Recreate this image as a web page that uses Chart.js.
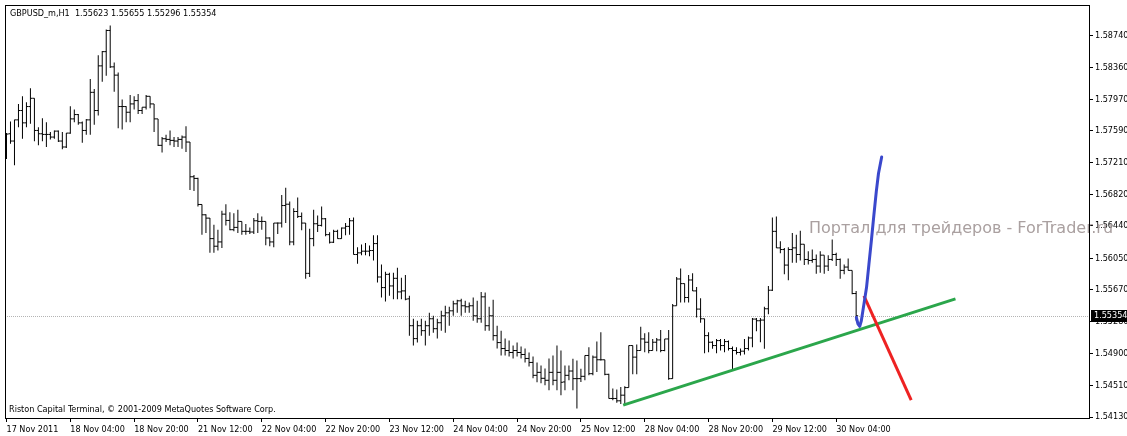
<!DOCTYPE html>
<html><head><meta charset="utf-8">
<script src="https://cdn.jsdelivr.net/npm/chart.js@4.4.0/dist/chart.umd.min.js"></script>
<style>html,body{margin:0;padding:0;background:#fff;overflow:hidden}canvas{display:block}</style>
</head><body>
<canvas id="c" width="1127" height="436"></canvas>
<script>
const symbolName = "GBPUSD_m,H1";
const copyrightText = "Riston Capital Terminal, \u00A9 2001-2009 MetaQuotes Software Corp.";
const watermarkText = "Портал для трейдеров - ForTrader.ru";

const opens = [
1.57455,1.57555,1.57467,1.57723,1.57836,1.57687,1.57884,1.57984,1.57595,1.57555,
1.57547,1.57547,1.57515,1.57587,1.57467,1.57395,1.57563,1.57735,1.57787,1.57687,
1.57595,1.57723,1.58056,1.57836,1.58376,1.58548,1.58804,1.58364,1.58264,1.57884,
1.57884,1.57815,1.57916,1.57956,1.57836,1.57876,1.58008,1.57916,1.57735,1.57415,
1.57495,1.57487,1.57475,1.57467,1.57487,1.57515,1.57455,1.57035,1.57015,1.56700,
1.56575,1.56535,1.56287,1.56195,1.56247,1.56583,1.56507,1.56395,1.56423,1.56495,
1.56375,1.56375,1.56367,1.56503,1.56495,1.56495,1.56295,1.56247,1.56475,1.56475,
1.56687,1.56703,1.56247,1.56615,1.56555,1.56475,1.55867,1.56287,1.56467,1.56447,
1.56527,1.56335,1.56243,1.56375,1.56287,1.56415,1.56435,1.56503,1.56095,1.56115,
1.56135,1.56135,1.56143,1.56227,1.55823,1.55695,1.55855,1.55715,1.55807,1.55643,
1.55655,1.55559,1.55234,1.55078,1.55234,1.55174,1.55234,1.55318,1.55198,1.55270,
1.55354,1.55390,1.55414,1.55499,1.55535,1.55475,1.55463,1.55475,1.55354,1.55318,
1.55583,1.55234,1.55354,1.55114,1.55030,1.54958,1.54934,1.54910,1.54934,1.54910,
1.54886,1.54838,1.54790,1.54634,1.54670,1.54598,1.54574,1.54670,1.54574,1.54670,
1.54554,1.54634,1.54686,1.54594,1.54594,1.54622,1.54874,1.54654,1.54854,1.54822,
1.54822,1.54646,1.54354,1.54354,1.54326,1.54394,1.54486,1.54994,1.54854,1.54934,
1.55074,1.55034,1.54934,1.55034,1.55062,1.54934,1.55074,1.54594,1.55475,1.55799,
1.55743,1.55575,1.55787,1.55655,1.55435,1.55318,1.55114,1.55034,1.54994,1.55054,
1.54994,1.55042,1.54958,1.54934,1.54910,1.54926,1.54958,1.55086,1.55314,1.55294,
1.55302,1.55439,1.55663,1.56375,1.56175,1.56155,1.55967,1.56155,1.56175,1.56095,
1.56219,1.56035,1.56023,1.56035,1.55955,1.56087,1.55955,1.56035,1.56095,1.56035,
1.55903,1.55943,1.55903,1.55623];

const highs = [
1.57563,1.57703,1.57723,1.57916,1.58008,1.57936,1.58104,1.57984,1.57635,1.57743,
1.57695,1.57575,1.57595,1.57595,1.57575,1.57563,1.57888,1.57848,1.57795,1.57703,
1.57735,1.58216,1.58096,1.58504,1.58556,1.58816,1.58864,1.58416,1.58296,1.57968,
1.57888,1.58024,1.58008,1.58036,1.57876,1.58024,1.58008,1.57916,1.57735,1.57515,
1.57543,1.57595,1.57515,1.57515,1.57535,1.57647,1.57455,1.57055,1.57023,1.56700,
1.56583,1.56535,1.56455,1.56395,1.56623,1.56703,1.56607,1.56595,1.56635,1.56495,
1.56463,1.56423,1.56535,1.56595,1.56555,1.56495,1.56303,1.56475,1.56483,1.56815,
1.56903,1.56735,1.56655,1.56783,1.56603,1.56475,1.56407,1.56635,1.56567,1.56675,
1.56535,1.56363,1.56395,1.56395,1.56423,1.56475,1.56535,1.56543,1.56183,1.56215,
1.56235,1.56203,1.56327,1.56327,1.55975,1.55887,1.55875,1.55875,1.55935,1.55815,
1.55847,1.55595,1.55318,1.55294,1.55318,1.55294,1.55390,1.55354,1.55318,1.55414,
1.55475,1.55463,1.55535,1.55547,1.55559,1.55535,1.55515,1.55575,1.55535,1.55643,
1.55635,1.55463,1.55547,1.55234,1.55174,1.55078,1.55054,1.54994,1.55030,1.54982,
1.54958,1.54910,1.54862,1.54790,1.54754,1.54718,1.54838,1.54874,1.54994,1.54934,
1.54754,1.54754,1.54834,1.54814,1.54714,1.54874,1.54974,1.54874,1.55042,1.55154,
1.54822,1.54654,1.54474,1.54462,1.54494,1.54502,1.54994,1.54994,1.55006,1.55222,
1.55142,1.55154,1.55074,1.55086,1.55182,1.55074,1.55182,1.55495,1.55823,1.55927,
1.55743,1.55847,1.55867,1.55703,1.55567,1.55318,1.55154,1.55046,1.55074,1.55074,
1.55074,1.55054,1.54982,1.54974,1.54958,1.55074,1.55102,1.55326,1.55326,1.55326,
1.55463,1.55715,1.56543,1.56555,1.56255,1.56175,1.56183,1.56355,1.56335,1.56383,
1.56219,1.56135,1.56155,1.56095,1.56135,1.56087,1.56087,1.56275,1.56115,1.56047,
1.55975,1.56047,1.55903,1.55655];

const lows = [
1.57251,1.57435,1.57175,1.57635,1.57495,1.57635,1.57675,1.57463,1.57415,1.57463,
1.57395,1.57487,1.57495,1.57455,1.57367,1.57383,1.57555,1.57695,1.57663,1.57447,
1.57543,1.57543,1.57663,1.57775,1.58184,1.58256,1.58350,1.58064,1.57623,1.57607,
1.57695,1.57695,1.57848,1.57795,1.57795,1.57848,1.57864,1.57575,1.57407,1.57327,
1.57455,1.57415,1.57395,1.57395,1.57375,1.57335,1.56875,1.56863,1.56675,1.56335,
1.56355,1.56115,1.56115,1.56143,1.56175,1.56447,1.56387,1.56375,1.56355,1.56335,
1.56335,1.56343,1.56343,1.56355,1.56395,1.56207,1.56195,1.56183,1.56343,1.56423,
1.56475,1.56207,1.56207,1.56535,1.56387,1.55803,1.55823,1.56195,1.56367,1.56435,
1.56315,1.56227,1.56235,1.56287,1.56287,1.56327,1.56335,1.56095,1.55983,1.56087,
1.56087,1.56075,1.56023,1.55755,1.55575,1.55527,1.55595,1.55555,1.55555,1.55555,
1.55543,1.55114,1.54994,1.55030,1.55114,1.54994,1.55114,1.55150,1.55078,1.55174,
1.55150,1.55234,1.55354,1.55390,1.55354,1.55390,1.55390,1.55294,1.55270,1.55270,
1.55174,1.55174,1.55054,1.54958,1.54874,1.54874,1.54862,1.54838,1.54862,1.54838,
1.54790,1.54742,1.54598,1.54550,1.54538,1.54514,1.54454,1.54514,1.54454,1.54394,
1.54454,1.54574,1.54454,1.54234,1.54554,1.54574,1.54634,1.54634,1.54674,1.54814,
1.54634,1.54354,1.54334,1.54302,1.54286,1.54274,1.54486,1.54646,1.54646,1.54934,
1.54914,1.54902,1.54934,1.54926,1.54914,1.54926,1.54582,1.54594,1.55475,1.55515,
1.55515,1.55515,1.55655,1.55334,1.55270,1.54902,1.54914,1.54954,1.54902,1.54934,
1.54914,1.54934,1.54702,1.54886,1.54874,1.54886,1.54934,1.54974,1.55166,1.55034,
1.54954,1.55374,1.55655,1.56175,1.56111,1.55855,1.55783,1.55995,1.55995,1.56023,
1.55967,1.55975,1.55995,1.55863,1.55875,1.55863,1.55895,1.56015,1.55955,1.55803,
1.55855,1.55903,1.55615,1.55296];

const closes = [
1.57551,1.57467,1.57723,1.57836,1.57687,1.57884,1.57984,1.57595,1.57555,1.57547,
1.57547,1.57515,1.57587,1.57467,1.57395,1.57563,1.57735,1.57787,1.57687,1.57595,
1.57723,1.58056,1.57836,1.58376,1.58548,1.58804,1.58364,1.58264,1.57884,1.57884,
1.57815,1.57916,1.57956,1.57836,1.57876,1.58008,1.57916,1.57735,1.57415,1.57495,
1.57487,1.57475,1.57467,1.57487,1.57515,1.57455,1.57035,1.57015,1.56700,1.56575,
1.56535,1.56287,1.56195,1.56247,1.56583,1.56507,1.56395,1.56423,1.56495,1.56375,
1.56375,1.56367,1.56503,1.56495,1.56495,1.56295,1.56247,1.56475,1.56475,1.56687,
1.56703,1.56247,1.56615,1.56555,1.56475,1.55867,1.56287,1.56467,1.56447,1.56527,
1.56335,1.56243,1.56375,1.56287,1.56415,1.56435,1.56503,1.56095,1.56115,1.56135,
1.56135,1.56143,1.56227,1.55823,1.55695,1.55855,1.55715,1.55807,1.55643,1.55655,
1.55555,1.55234,1.55078,1.55234,1.55174,1.55234,1.55318,1.55198,1.55270,1.55354,
1.55390,1.55414,1.55499,1.55535,1.55475,1.55463,1.55475,1.55354,1.55318,1.55583,
1.55234,1.55354,1.55114,1.55030,1.54958,1.54934,1.54910,1.54934,1.54910,1.54886,
1.54838,1.54790,1.54634,1.54670,1.54598,1.54574,1.54670,1.54574,1.54670,1.54550,
1.54634,1.54686,1.54594,1.54594,1.54622,1.54874,1.54654,1.54854,1.54822,1.54822,
1.54646,1.54354,1.54354,1.54326,1.54394,1.54486,1.54994,1.54854,1.54934,1.55074,
1.55034,1.54934,1.55034,1.55062,1.54934,1.55074,1.54594,1.55475,1.55799,1.55743,
1.55575,1.55787,1.55655,1.55435,1.55318,1.55114,1.55034,1.54994,1.55054,1.54994,
1.55042,1.54958,1.54934,1.54910,1.54926,1.54958,1.55086,1.55314,1.55294,1.55302,
1.55439,1.55663,1.56375,1.56175,1.56155,1.55967,1.56155,1.56175,1.56095,1.56219,
1.56035,1.56023,1.56035,1.55955,1.56087,1.55955,1.56035,1.56095,1.56035,1.55903,
1.55943,1.55903,1.55623,1.55354];

const timeTickBars = [0,16,32,48,64,80,96,112,128,144,160,176,192,208];
const timeTickLabels = ["17 Nov 2011","18 Nov 04:00","18 Nov 20:00","21 Nov 12:00","22 Nov 04:00","22 Nov 20:00","23 Nov 12:00","24 Nov 04:00","24 Nov 20:00","25 Nov 12:00","28 Nov 04:00","28 Nov 20:00","29 Nov 12:00","30 Nov 04:00"];
const priceTicks = [1.58740,1.58360,1.57970,1.57590,1.57210,1.56820,1.56440,1.56050,1.55670,1.55280,1.54900,1.54510,1.54130];

const greenTrendBars = [154.6, 237.9];
const greenTrendPrices = [1.54274, 1.55559];
const blueCurveBars = [213.05,213.45,213.9,214.3,214.95,215.6,216.2,216.8,217.45,218.05,218.6,219.4];
const blueCurvePrices = [1.55334,1.55255,1.55226,1.55294,1.55495,1.55695,1.55975,1.56255,1.56575,1.56855,1.57075,1.57275];
const redLineBars = [214.95, 226.8];
const redLinePrices = [1.55595, 1.54334];

const xMin = -0.375, xMax = 271.375;
const yMin = 1.54118, yMax = 1.59112;

const FONT = '"DejaVu Sans Condensed", "Liberation Sans", sans-serif';
const FSIZE = 9;
const lastIdx = closes.length - 1;

const decor = {
  id: 'decor',
  beforeDraw(chart) {
    const c = chart.ctx;
    c.save(); c.fillStyle = '#fff'; c.fillRect(0, 0, chart.width, chart.height); c.restore();
  },
  beforeDatasetsDraw(chart) {
    const c = chart.ctx, a = chart.chartArea, ys = chart.scales.y;
    const py = Math.round(ys.getPixelForValue(closes[lastIdx])) + 0.5;
    c.save();
    c.strokeStyle = '#b4b4b4'; c.lineWidth = 1; c.setLineDash([1, 1]);
    c.beginPath(); c.moveTo(a.left, py); c.lineTo(a.right, py); c.stroke();
    c.setLineDash([]);
    c.font = '16px "DejaVu Sans"';
    c.fillStyle = '#aaa0a0';
    c.textBaseline = 'middle'; c.textAlign = 'left';
    c.fillText(watermarkText, 809, 229);
    c.restore();
  },
  afterDraw(chart) {
    const c = chart.ctx, a = chart.chartArea, ys = chart.scales.y;
    c.save();
    c.strokeStyle = '#000'; c.lineWidth = 1;
    c.strokeRect(a.left + 0.5, a.top + 0.5, a.right - a.left, a.bottom - a.top);
    c.fillStyle = '#000'; c.font = FSIZE + 'px ' + FONT; c.textBaseline = 'middle'; c.textAlign = 'left';
    const head = symbolName + '  ' + [opens[lastIdx], highs[lastIdx], lows[lastIdx], closes[lastIdx]].map(v => v.toFixed(5)).join(' ');
    c.fillText(head, a.left + 5, a.top + 9);
    c.fillText(copyrightText, a.left + 4, a.bottom - 8);
    const py = Math.round(ys.getPixelForValue(closes[lastIdx]));
    c.fillRect(a.right + 2, py - 6, chart.width - a.right - 2, 12);
    c.fillStyle = '#fff';
    c.fillText(closes[lastIdx].toFixed(5), a.right + 5, py);
    c.restore();
  }
};

const barsData = highs.map((h, i) => ({x: i, y: [lows[i], h]}));
const openData = opens.map((v, i) => ({x: i - 0.25, y: v}));
const closeData = closes.map((v, i) => ({x: i + 0.25, y: v}));
const zipXY = (xs, ys) => xs.map((x, i) => ({x: x, y: ys[i]}));

new Chart(document.getElementById('c'), {
  type: 'line',
  data: { datasets: [
    { type: 'bar', data: barsData, backgroundColor: '#000', borderWidth: 0, barThickness: 1, inflateAmount: 0, grouped: false, order: 10 },
    { type: 'line', data: openData, showLine: false, pointStyle: 'line', pointRadius: 1, pointBorderWidth: 1, pointBorderColor: '#000', pointBackgroundColor: '#000', order: 9 },
    { type: 'line', data: closeData, showLine: false, pointStyle: 'line', pointRadius: 1, pointBorderWidth: 1, pointBorderColor: '#000', pointBackgroundColor: '#000', order: 8 },
    { type: 'line', data: zipXY(greenTrendBars, greenTrendPrices), borderColor: '#2ba64b', borderWidth: 3, pointRadius: 0, tension: 0, order: 3 },
    { type: 'line', data: zipXY(redLineBars, redLinePrices), borderColor: '#ee2222', borderWidth: 3, pointRadius: 0, tension: 0, order: 2 },
    { type: 'line', data: zipXY(blueCurveBars, blueCurvePrices), borderColor: '#3a48cc', borderWidth: 3, pointRadius: 0, tension: 0, borderCapStyle: 'round', borderJoinStyle: 'round', order: 1 }
  ]},
  options: {
    responsive: false, animation: false, devicePixelRatio: 1, events: [],
    layout: { padding: { left: 2, top: 2, right: 0, bottom: 0 } },
    plugins: { legend: { display: false }, tooltip: { enabled: false }, title: { display: false } },
    scales: {
      x: {
        type: 'linear', position: 'bottom', min: xMin, max: xMax, offset: false,
        grid: { display: true, drawOnChartArea: false, drawTicks: true, tickLength: 4, color: '#000', offset: false },
        border: { display: true, color: '#000', width: 1 },
        ticks: { autoSkip: false, maxRotation: 0, minRotation: 0, align: 'start', padding: 2, color: '#000',
                 font: { family: FONT, size: FSIZE }, callback: (v, i) => timeTickLabels[i] },
        afterBuildTicks: s => { s.ticks = timeTickBars.map(v => ({ value: v })); },
        afterFit: s => { s.height = 18; s.paddingLeft = 0; s.paddingRight = 0; }
      },
      y: {
        type: 'linear', position: 'right', min: yMin, max: yMax, beginAtZero: false, offset: false,
        grid: { display: true, drawOnChartArea: false, drawTicks: true, tickLength: 4, color: '#000', offset: false },
        border: { display: true, color: '#000', width: 1 },
        ticks: { autoSkip: false, padding: 2, color: '#000', font: { family: FONT, size: FSIZE },
                 callback: v => Number(v).toFixed(5) },
        afterBuildTicks: s => { s.ticks = priceTicks.map(v => ({ value: v })); },
        afterFit: s => { s.width = 38; s.paddingTop = 0; s.paddingBottom = 0; }
      }
    }
  },
  plugins: [decor]
});
</script>
</body></html>
